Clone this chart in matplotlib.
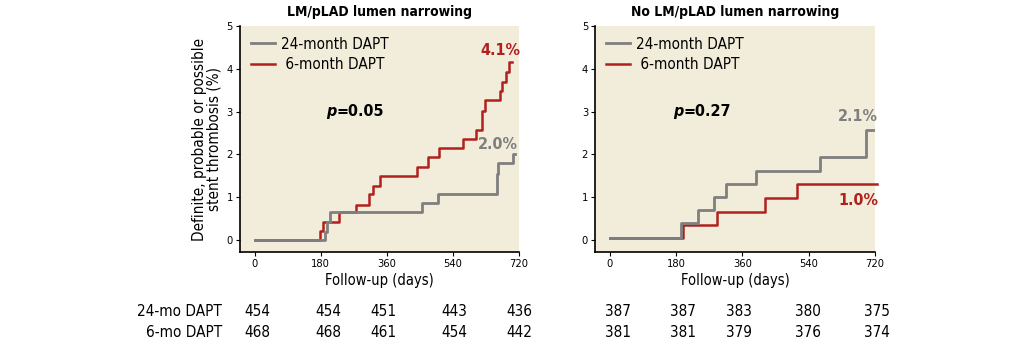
import matplotlib

matplotlib.use("Agg")

import matplotlib.pyplot as plt

plt.rcParams["font.family"] = ["DejaVu Sans"]
plt.rcParams["font.stretch"] = "condensed"

# Data: step curves (day, cumulative %)
lm_24_days = [0, 191, 198, 204, 456, 500, 659, 662, 704, 709]
lm_24_pct = [0.0, 0.19, 0.43, 0.65, 0.87, 1.08, 1.55, 1.79, 2.0, 2.0]
lm_6_days = [0, 177, 185, 229, 277, 312, 323, 341, 443, 473, 503, 568, 604, 618, 627, 668, 675, 686, 694, 701]
lm_6_pct = [0.0, 0.22, 0.43, 0.65, 0.82, 1.07, 1.27, 1.5, 1.71, 1.95, 2.15, 2.35, 2.58, 3.02, 3.26, 3.49, 3.7, 3.93, 4.17, 4.17]

no_24_days = [0, 194, 239, 282, 316, 397, 571, 697, 720]
no_24_pct = [0.04, 0.39, 0.7, 1.0, 1.31, 1.62, 1.95, 2.57, 2.57]
no_6_days = [0, 200, 291, 422, 508, 726]
no_6_pct = [0.04, 0.35, 0.66, 0.99, 1.3, 1.3]

titles = ["LM/pLAD lumen narrowing", "No LM/pLAD lumen narrowing"]
p_values = ["=0.05", "=0.27"]
final_24 = ["2.0%", "2.1%"]
final_6 = ["4.1%", "1.0%"]

risk_labels = ["24-mo DAPT", "6-mo DAPT"]
lm_risk_24 = [454, 454, 451, 443, 436]
lm_risk_6 = [468, 468, 461, 454, 442]
no_risk_24 = [387, 387, 383, 380, 375]
no_risk_6 = [381, 381, 379, 376, 374]

GRAY = "#7f7f7f"
RED = "#b0201c"
BG = "#f2eddb"

fig = plt.figure(figsize=(10.33, 3.48), dpi=100)
ax1 = fig.add_axes([0.2323, 0.2759, 0.2701, 0.6494])
ax2 = fig.add_axes([0.576, 0.2759, 0.271, 0.6494])

panels = [
    (ax1, lm_24_days, lm_24_pct, lm_6_days, lm_6_pct, lm_risk_24, lm_risk_6,
     [8, 202, 352, 545, 722], (668, 4.42), (663, 2.22), (224, 3.0)),
    (ax2, no_24_days, no_24_pct, no_6_days, no_6_pct, no_risk_24, no_risk_6,
     [22, 200, 352, 537, 725], (674, 0.93), (674, 2.88), (200, 3.0)),
]

for i, (ax, d24, p24, d6, p6, r24, r6, rx, pos6, pos24, ppos) in enumerate(panels):
    ax.set_facecolor(BG)
    ax.step(d24, p24, where="post", color=GRAY, lw=2, label="24-month DAPT", zorder=3)
    ax.step(d6, p6, where="post", color=RED, lw=1.8, label=" 6-month DAPT", zorder=2,
            clip_on=False)
    ax.set_xlim(-40, 720)
    ax.set_ylim(-0.28, 5)
    ax.set_xticks([0, 180, 360, 540, 720])
    ax.set_yticks([0, 1, 2, 3, 4, 5])
    ax.tick_params(labelsize=8, length=3, width=0.8, pad=2)
    for s in ["top", "right"]:
        ax.spines[s].set_visible(False)
    for s in ["left", "bottom"]:
        ax.spines[s].set_linewidth(1.2)
    ax.set_title(titles[i], fontsize=10, fontweight="bold", pad=7)
    ax.set_xlabel("Follow-up (days)", fontsize=10.5, labelpad=3)
    ax.legend(loc="upper left", frameon=False, fontsize=11, handlelength=1.6,
              borderaxespad=0.3, labelspacing=0.35, handletextpad=0.4)
    ax.text(pos6[0], pos6[1], final_6[i], color=RED, fontsize=11.5, fontweight="bold",
            ha="center", va="center")
    ax.text(pos24[0], pos24[1], final_24[i], color=GRAY, fontsize=11.5, fontweight="bold",
            ha="center", va="center")
    ax.text(ppos[0], ppos[1], "p", fontsize=11.5, fontweight="bold", style="italic",
            ha="right", va="center")
    ax.text(ppos[0], ppos[1], p_values[i], fontsize=11.5, fontweight="bold",
            ha="left", va="center")
    # risk table
    for x, n24, n6 in zip(rx, r24, r6):
        ax.text(x, -1.68, str(n24), fontsize=11, ha="center", va="center", clip_on=False)
        ax.text(x, -2.15, str(n6), fontsize=11, ha="center", va="center", clip_on=False)

ax1.set_ylabel("Definite, probable or possible\nstent thrombosis (%)", fontsize=11,
               labelpad=4, linespacing=0.95)
ax1.text(-88, -1.68, risk_labels[0], fontsize=11, ha="right", va="center", clip_on=False)
ax1.text(-88, -2.15, risk_labels[1], fontsize=11, ha="right", va="center", clip_on=False)

fig.savefig("out.png", dpi=100)
